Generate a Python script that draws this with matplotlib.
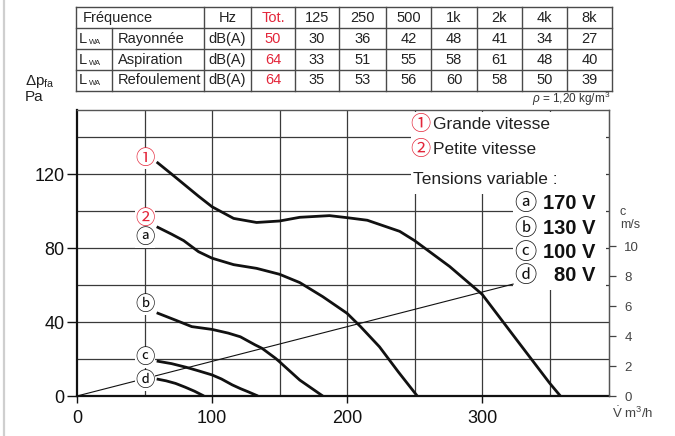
#!/usr/bin/env python3
"""Fan curve chart: pressure vs air flow, with sound power table."""

import matplotlib
matplotlib.use("Agg")
import matplotlib.pyplot as plt
from matplotlib.patches import Rectangle

plt.rcParams["font.family"] = ["Liberation Sans", "DejaVu Sans"]
plt.rcParams["mathtext.fontset"] = "custom"
plt.rcParams["mathtext.rm"] = "Liberation Sans"
plt.rcParams["mathtext.it"] = "Liberation Sans:italic"

RED = "#e3263a"
INK = "#111111"
GRID = "#3a3a3a"
CIRCLED = ["Noto Sans CJK JP", "DejaVu Sans"]

# --- sound power table ---
freq_labels = ["125", "250", "500", "1k", "2k", "4k", "8k"]
row_names = ["Rayonnée", "Aspiration", "Refoulement"]
row_tot = [50, 64, 64]
rayonnee = [30, 36, 42, 48, 41, 34, 27]
aspiration = [33, 51, 55, 58, 61, 48, 40]
refoulement = [35, 53, 56, 60, 58, 50, 39]

# --- curves (flow m3/h, pressure Pa) ---
curve1_x = [59, 70, 80, 90, 100, 116, 133, 150, 165, 187, 200, 215, 239, 250, 276, 300, 326, 350, 358]
curve1_y = [126.5, 120, 114, 108, 102.3, 96, 93.8, 94.6, 96.6, 97.5, 96.4, 95, 89, 84, 70, 55, 30, 7, 0]

curve_a_x = [59, 70, 79, 90, 100, 116, 133, 150, 165, 182, 200, 210, 224, 238, 252]
curve_a_y = [91.5, 87.5, 84, 78, 74.5, 71, 69, 65.8, 61.3, 53.7, 44.7, 37.5, 26.6, 13, 0]

curve_b_x = [59, 73, 85, 100, 112, 121, 132, 137, 147, 150, 165, 182]
curve_b_y = [45, 41, 37.5, 36, 34, 32, 27.6, 25.8, 20.4, 18.5, 8.6, 0]

curve_c_x = [59, 70, 81, 90, 100, 107, 115, 121, 127, 134]
curve_c_y = [18.9, 17.5, 15.5, 13.6, 11.4, 9.2, 6, 4, 2.2, 0]

curve_d_x = [59, 66, 73, 80, 87, 94]
curve_d_y = [9.2, 8.2, 6.8, 4.8, 2.6, 0]

system_x = [0, 323]
system_y = [0, 60.5]

# label markers on the curves
mark_text = ["①", "②", "ⓐ", "ⓑ", "ⓒ", "ⓓ"]
mark_y = [128.6, 96.2, 85.9, 49.2, 21.0, 8.6]
mark_color = [RED, RED, INK, INK, INK, INK]

voltage_marks = ["ⓐ", "ⓑ", "ⓒ", "ⓓ"]
voltage_text = ["170 V", "130 V", "100 V", "80 V"]

c_ticks = [0, 2, 4, 6, 8, 10]
PA_PER_MS = 8.1

fig = plt.figure(figsize=(6.75, 4.36), dpi=100)

# overlay in pixel coordinates for table and loose labels
ov = fig.add_axes([0, 0, 1, 1])
ov.set_xlim(0, 675)
ov.set_ylim(436, 0)
ov.axis("off")

ov.plot([3.5, 3.5], [0, 436], color="#cfcfcf", lw=1.6)

col_edges = [76, 112, 204, 251, 295, 339, 386, 431, 477, 522, 567, 612]
row_edges = [7.5, 28.3, 49.2, 70, 90.7]
tcol = "#4a4a4a"
for y in row_edges:
  ov.plot([col_edges[0], col_edges[-1]], [y, y], color=tcol, lw=1.0)
for i, x in enumerate(col_edges):
  y0 = row_edges[1] if i == 1 else row_edges[0]
  ov.plot([x, x], [y0, row_edges[-1]], color=tcol, lw=1.0)

tfont = dict(fontsize=10.5, color="#222222")


def mid(i):
  return (col_edges[i] + col_edges[i + 1]) / 2


def rmid(j):
  return (row_edges[j] + row_edges[j + 1]) / 2


ov.text(83, rmid(0), "Fréquence", ha="left", va="center", **tfont)
ov.text(mid(2), rmid(0), "Hz", ha="center", va="center", **tfont)
ov.text(mid(3), rmid(0), "Tot.", ha="center", va="center", **{**tfont, "color": RED})
for k, lab in enumerate(freq_labels):
  ov.text(mid(4 + k), rmid(0), lab, ha="center", va="center", **tfont)

for j, (name, tot, vals) in enumerate(zip(row_names, row_tot, [rayonnee, aspiration, refoulement])):
  yc = rmid(j + 1)
  ov.text(79, yc, "L", ha="left", va="center", **tfont)
  ov.text(89, yc + 3.5, "WA", ha="left", va="center", **{**tfont, "fontsize": 5.5})
  ov.text(118, yc, name, ha="left", va="center", **tfont)
  ov.text(mid(2), yc, "dB(A)", ha="center", va="center", **tfont)
  ov.text(mid(3), yc, str(tot), ha="center", va="center", **{**tfont, "color": RED})
  for k, v in enumerate(vals):
    ov.text(mid(4 + k), yc, str(v), ha="center", va="center", **tfont)

ov.text(610, 99, r"$\rho$ = 1,20 kg/m$^3$", ha="right", va="center", fontsize=8.5, color="#333333")
ov.text(25, 81, r"$\Delta\mathrm{p_{fa}}$", ha="left", va="center", fontsize=11, color="#222222")
ov.text(25, 97, "Pa", ha="left", va="center", fontsize=11, color="#222222")
ov.text(620, 212, "c", ha="left", va="center", fontsize=9, color="#444444")
ov.text(620, 225, "m/s", ha="left", va="center", fontsize=9, color="#444444")
ov.text(612, 413, r"$\dot{\mathrm{V}}$ m$^3$/h", ha="left", va="center", fontsize=9.5, color="#444444")

# main chart
ax = fig.add_axes([77 / 675, 1 - 396 / 436, 532 / 675, 286 / 436])
ax.set_xlim(0, 394)
ax.set_ylim(0, 154.6)
ax.set_facecolor("none")

for gx in range(50, 400, 50):
  ax.axvline(gx, color=GRID, lw=0.9, zorder=1)
for gy in range(20, 160, 20):
  ax.axhline(gy, color=GRID, lw=0.9, zorder=1)

# white panels behind the legend text
ax.add_patch(Rectangle((247, 109.2), 145, 44.2, fc="white", ec="none", zorder=2))
ax.add_patch(Rectangle((323, 57.3), 69, 52, fc="white", ec="none", zorder=2))

for xs, ys in [(curve1_x, curve1_y), (curve_a_x, curve_a_y), (curve_b_x, curve_b_y),
               (curve_c_x, curve_c_y), (curve_d_x, curve_d_y)]:
  ax.plot(xs, ys, color=INK, lw=2.0, solid_capstyle="butt", zorder=4)
ax.plot(system_x, system_y, color=INK, lw=0.8, zorder=3)

for txt, y, col in zip(mark_text, mark_y, mark_color):
  ax.text(50.4, y, txt, ha="center", va="center", fontsize=14, color=col, zorder=5,
          family=CIRCLED, bbox=dict(boxstyle="square,pad=0.0", fc="white", ec="none"))

ax.text(247, 146.5, "①", ha="left", va="center", fontsize=14.5, color=RED, zorder=5, family=CIRCLED)
ax.text(264, 146.5, "Grande vitesse", ha="left", va="center", fontsize=12.5, color="#222222", zorder=5)
ax.text(247, 133.5, "②", ha="left", va="center", fontsize=14.5, color=RED, zorder=5, family=CIRCLED)
ax.text(264, 133.5, "Petite vitesse", ha="left", va="center", fontsize=12.5, color="#222222", zorder=5)
ax.text(248.5, 117.3, "Tensions variable :", ha="left", va="center", fontsize=12.5, color="#222222", zorder=5)

volt_y = [103.8, 90.8, 77.8, 64.9]
for mk, vt, y in zip(voltage_marks, voltage_text, volt_y):
  ax.text(324, y, mk, ha="left", va="center", fontsize=16, color=INK, zorder=5, family=CIRCLED)
  ax.text(384, y, vt, ha="right", va="center", fontsize=14.5, fontweight="bold", color=INK, zorder=5)

ax.set_xticks([0, 100, 200, 300])
ax.set_yticks([0, 40, 80, 120])
ax.tick_params(axis="x", length=5, width=1, pad=5, labelsize=13, colors=INK)
ax.tick_params(axis="y", length=7, width=1, pad=2, labelsize=13, colors=INK)
for side in ["left", "bottom"]:
  ax.spines[side].set_linewidth(1.6)
  ax.spines[side].set_color(INK)
for side in ["top", "right"]:
  ax.spines[side].set_linewidth(1.0)
  ax.spines[side].set_color("#555555")
  ax.spines[side].set_zorder(6)

c_ax = ax.twinx()
c_ax.set_ylim(0, 154.6 / PA_PER_MS)
c_ax.set_yticks(c_ticks)
c_ax.tick_params(axis="y", length=5, width=0.9, pad=6, labelsize=9.5, colors="#444444")
for side in ["left", "bottom", "top"]:
  c_ax.spines[side].set_visible(False)
c_ax.spines["right"].set_color("#555555")

fig.savefig("out.png", dpi=100)
